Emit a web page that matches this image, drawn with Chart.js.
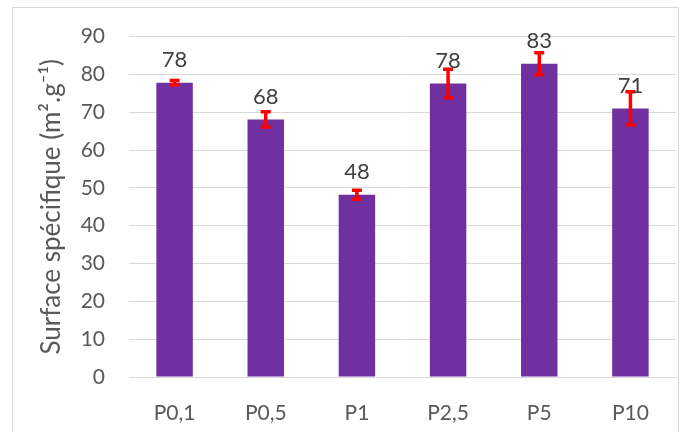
<!DOCTYPE html>
<html lang="fr">
<head>
    <meta charset="UTF-8">
    <title>Surface spécifique</title>
    <script src="https://cdn.jsdelivr.net/npm/chart.js"></script>
    <style>
        body { margin: 0; background: #fff; }
        #wrap { position: relative; width: 683px; height: 432px; }
        #frame { position: absolute; left: 12px; top: 7px; width: 667px; height: 430px; border: 1px solid #d9d9d9; box-sizing: border-box; }
    </style>
</head>
<body>
<div id="wrap">
    <div id="frame"></div>
    <canvas id="surfChart" width="683" height="432"></canvas>
</div>
<script>
    const categories = ['P0,1', 'P0,5', 'P1', 'P2,5', 'P5', 'P10'];
    const surface = [77.8, 68.1, 48.2, 77.6, 82.8, 71.0];
    const errors = [0.6, 2.0, 1.2, 3.8, 2.9, 4.4];
    const labels = ['78', '68', '48', '78', '83', '71'];

    // error bars + value labels
    const extras = {
        id: 'extras',
        afterDatasetsDraw(chart) {
            const ctx = chart.ctx;
            const y = chart.scales.y;
            const meta = chart.getDatasetMeta(0);
            ctx.save();
            meta.data.forEach((bar, i) => {
                const x = bar.x;
                const top = y.getPixelForValue(surface[i] + errors[i]);
                const bot = y.getPixelForValue(surface[i] - errors[i]);
                ctx.strokeStyle = '#ff0000';
                ctx.lineWidth = 3.5;
                ctx.beginPath();
                ctx.moveTo(x, top); ctx.lineTo(x, bot);
                ctx.moveTo(x - 5, top); ctx.lineTo(x + 5, top);
                ctx.moveTo(x - 5, bot); ctx.lineTo(x + 5, bot);
                ctx.stroke();
            });
            ctx.fillStyle = '#404040';
            ctx.font = '22px Lato';
            ctx.textAlign = 'center';
            ctx.textBaseline = 'middle';
            meta.data.forEach((bar, i) => {
                ctx.fillText(labels[i], bar.x, bar.y - 23);
            });
            ctx.restore();
        }
    };

    new Chart(document.getElementById('surfChart').getContext('2d'), {
        type: 'bar',
        data: {
            labels: categories,
            datasets: [{
                data: surface,
                backgroundColor: '#7030a0',
                categoryPercentage: 1,
                barPercentage: 0.4
            }]
        },
        options: {
            responsive: false,
            animation: false,
            layout: { padding: { top: 33, right: 7, left: 0, bottom: 0 } },
            plugins: { legend: { display: false }, tooltip: { enabled: false } },
            scales: {
                x: {
                    grid: { display: false, drawTicks: false },
                    border: { color: '#d9d9d9' },
                    ticks: { color: '#595959', font: { family: 'Lato', size: 21 }, padding: 24 },
                    afterFit(s) { s.height = 55; }
                },
                y: {
                    min: 0, max: 90,
                    ticks: { stepSize: 10, color: '#595959', font: { family: 'Lato', size: 21 }, padding: 24 },
                    grid: { color: '#d9d9d9', drawTicks: false },
                    border: { display: false },
                    title: {
                        display: true,
                        text: 'Surface spécifique (m².g⁻¹)',
                        color: '#595959',
                        font: { family: 'Lato', size: 26 },
                        padding: { top: 36, bottom: 0 }
                    },
                    afterFit(s) { s.width = 129; }
                }
            }
        },
        plugins: [extras]
    });
</script>
</body>
</html>
